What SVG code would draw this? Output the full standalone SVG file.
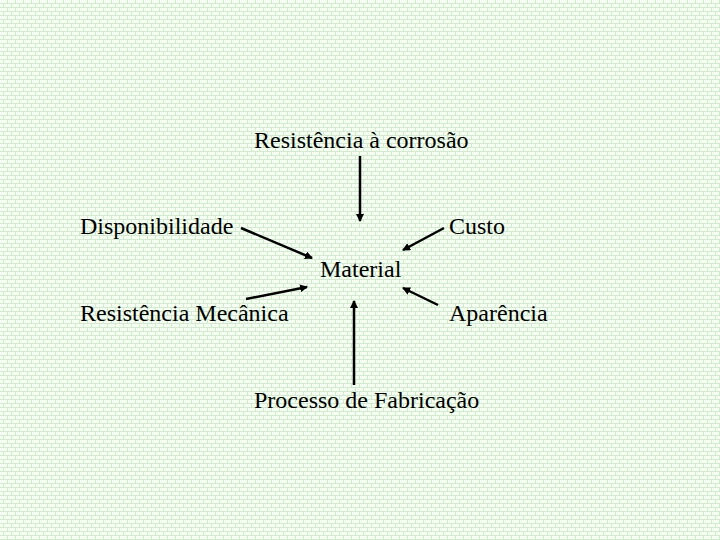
<svg xmlns="http://www.w3.org/2000/svg" width="720" height="540" viewBox="0 0 720 540">
<defs>
<pattern id="brick" width="8" height="8" patternUnits="userSpaceOnUse">
<rect width="8" height="8" fill="#f7fdf5"/>
<path d="M0 3.5H8M0 7.5H8M7.5 0V4M3.5 4V8" stroke="#cdeec8" stroke-width="1" fill="none"/>
</pattern>
<marker id="ah" markerWidth="8" markerHeight="8" refX="7" refY="4" orient="auto" markerUnits="userSpaceOnUse">
<path d="M0 0L8 4L0 8Z" fill="#000"/>
</marker>
<style>
text{font-family:"Liberation Serif","Times New Roman",serif;font-size:24px;fill:#000}
.c{stroke:#000;stroke-width:2.5;fill:none;marker-end:url(#ah)}
</style>
</defs>
<rect width="720" height="540" fill="url(#brick)"/>
<g id="n-corrosao"><text x="254" y="148">Resistência à corrosão</text></g>
<g id="n-disp"><text x="80" y="234">Disponibilidade</text></g>
<g id="n-custo"><text x="449" y="234">Custo</text></g>
<g id="n-material"><text x="320" y="277">Material</text></g>
<g id="n-mec"><text x="80" y="321">Resistência Mecânica</text></g>
<g id="n-apar"><text x="449" y="321">Aparência</text></g>
<g id="n-proc"><text x="254" y="408">Processo de Fabricação</text></g>
<g id="connectors">
<line class="c" x1="360" y1="156" x2="360" y2="221"/>
<line class="c" x1="241" y1="228" x2="312" y2="258"/>
<line class="c" x1="444" y1="228" x2="403" y2="250"/>
<line class="c" x1="246" y1="299" x2="307" y2="287"/>
<line class="c" x1="438" y1="305" x2="403" y2="288"/>
<line class="c" x1="354" y1="385" x2="354" y2="301"/>
</g>
</svg>
